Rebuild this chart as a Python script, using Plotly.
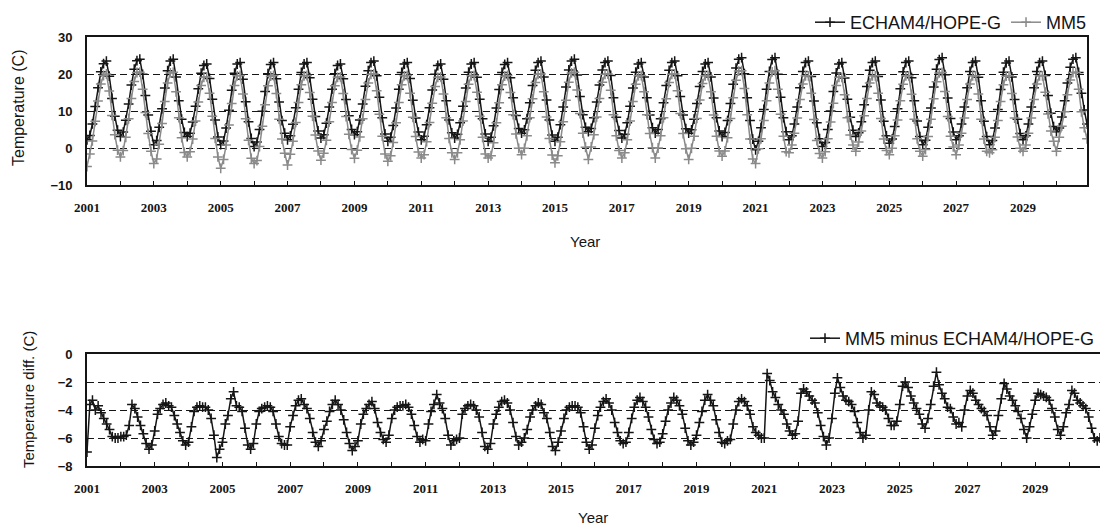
import pandas as pd
import plotly.graph_objects as go

# Monthly mean temperature (C), Jan..Dec, one row per year 2001-2030
echam = [
    2.2, 3.4, 6.5, 11.2, 16.3, 20.6, 22.8, 23.5, 19.4, 13.4, 8.6, 4.8,    # 2001
    3.1, 4.3, 7.5, 11.9, 17.0, 21.3, 23.6, 24.0, 19.9, 14.2, 8.9, 4.5,    # 2002
    0.9, 2.0, 5.6, 10.6, 16.2, 20.9, 23.5, 24.0, 19.2, 12.8, 7.8, 4.2,    # 2003
    3.1, 4.0, 7.0, 11.3, 16.0, 20.2, 22.3, 22.7, 18.8, 13.2, 7.6, 3.0,    # 2004
    0.9, 1.9, 5.4, 10.2, 15.6, 20.2, 22.7, 23.1, 18.6, 12.5, 7.1, 2.6,    # 2005
    0.4, 1.6, 5.0, 9.9, 15.3, 20.1, 22.6, 23.1, 18.7, 12.4, 7.4, 4.0,     # 2006
    2.2, 3.3, 6.4, 10.9, 15.9, 20.4, 22.7, 23.1, 19.0, 13.2, 8.5, 4.6,    # 2007
    2.7, 3.6, 6.7, 11.1, 15.9, 20.1, 22.3, 22.7, 18.7, 13.1, 8.7, 5.0,    # 2008
    3.6, 4.4, 7.6, 11.9, 16.7, 20.9, 23.1, 23.5, 19.5, 13.7, 8.2, 3.8,    # 2009
    1.8, 2.9, 6.1, 10.8, 15.9, 20.4, 22.7, 23.1, 18.8, 12.9, 8.1, 4.3,    # 2010
    2.2, 3.2, 6.3, 10.9, 15.7, 19.9, 22.3, 22.7, 18.6, 12.8, 7.6, 4.1,    # 2011
    2.7, 3.7, 6.8, 11.3, 16.2, 20.5, 22.7, 23.1, 19.1, 13.2, 7.9, 3.8,    # 2012
    1.8, 2.9, 6.0, 10.8, 15.8, 20.4, 22.6, 23.1, 19.0, 13.6, 8.8, 5.3,    # 2013
    4.0, 4.9, 7.9, 12.2, 16.9, 21.0, 23.1, 23.5, 19.2, 13.0, 7.6, 3.5,    # 2014
    1.8, 2.9, 6.3, 11.1, 16.5, 21.1, 23.5, 24.0, 19.7, 13.9, 9.0, 5.6,    # 2015
    4.4, 5.3, 8.2, 12.4, 17.0, 21.1, 23.1, 23.5, 19.6, 13.6, 8.3, 4.7,    # 2016
    2.7, 3.7, 6.8, 11.3, 16.2, 20.5, 22.7, 23.1, 19.2, 13.6, 8.9, 5.5,    # 2017
    4.0, 5.0, 7.9, 12.2, 16.9, 21.0, 23.1, 23.5, 19.5, 13.9, 8.9, 5.2,    # 2018
    4.0, 4.9, 7.8, 12.0, 16.6, 20.7, 22.7, 23.1, 19.2, 13.5, 8.2, 4.6,    # 2019
    3.1, 4.2, 7.4, 12.0, 17.2, 21.6, 24.0, 24.4, 20.1, 13.6, 7.4, 2.4,    # 2020
    -0.5, 1.8, 5.5, 10.4, 15.9, 20.7, 23.9, 24.4, 19.9, 13.7, 8.2, 4.4,   # 2021
    2.2, 3.3, 6.5, 11.1, 16.3, 20.7, 23.1, 23.5, 19.3, 12.7, 6.8, 2.5,    # 2022
    0.4, 1.5, 5.0, 10.0, 15.3, 20.3, 22.7, 23.1, 18.9, 13.2, 8.3, 4.8,    # 2023
    3.1, 4.1, 7.1, 11.7, 16.6, 21.0, 23.1, 23.5, 19.3, 13.0, 7.2, 3.3,    # 2024
    1.3, 2.4, 5.8, 10.6, 16.0, 20.6, 23.1, 23.5, 19.0, 12.8, 7.3, 3.1,    # 2025
    0.9, 2.1, 5.6, 10.8, 16.5, 21.3, 23.9, 24.4, 19.8, 13.5, 8.0, 4.3,    # 2026
    2.2, 3.3, 6.5, 11.1, 16.3, 20.7, 23.1, 23.5, 19.1, 12.8, 7.2, 3.1,    # 2027
    0.9, 2.0, 5.4, 10.4, 15.8, 20.5, 23.0, 23.5, 19.2, 13.1, 7.8, 3.9,    # 2028
    2.2, 3.3, 6.5, 11.1, 16.3, 20.7, 23.1, 23.5, 19.6, 14.2, 9.4, 5.8,    # 2029
    4.4, 5.4, 8.4, 12.8, 17.6, 21.8, 24.0, 24.4, 20.4, 14.8, 10.3, 6.5,   # 2030
]

mm5 = [
    -5.0, -1.6, 1.9, 7.2, 12.7, 17.3, 19.6, 20.0, 15.4, 8.8, 3.6, -0.6,   # 2001
    -2.4, -0.7, 2.9, 7.9, 13.4, 18.0, 20.4, 20.5, 15.9, 9.6, 3.9, -0.9,   # 2002
    -4.2, -3.0, 1.0, 6.6, 12.6, 17.6, 20.3, 20.5, 15.2, 8.2, 2.8, -1.2,   # 2003
    -2.4, -1.0, 2.4, 7.3, 12.4, 16.9, 19.1, 19.2, 14.8, 8.6, 2.6, -2.4,   # 2004
    -5.5, -3.1, 0.8, 6.2, 12.0, 16.9, 19.5, 19.6, 14.6, 7.9, 2.1, -2.8,   # 2005
    -4.2, -3.4, 0.4, 5.9, 11.7, 16.8, 19.4, 19.6, 14.7, 7.8, 2.4, -1.4,   # 2006
    -4.6, -1.7, 1.8, 6.9, 12.3, 17.1, 19.5, 19.6, 15.0, 8.6, 3.5, -0.8,   # 2007
    -3.3, -1.4, 2.1, 7.1, 12.3, 16.8, 19.1, 19.2, 14.7, 8.5, 3.7, -0.4,   # 2008
    -2.8, -0.6, 3.0, 7.9, 13.1, 17.6, 19.9, 20.0, 15.5, 9.1, 3.2, -1.6,   # 2009
    -3.6, -2.1, 1.5, 6.8, 12.3, 17.1, 19.5, 19.6, 14.8, 8.3, 3.1, -1.1,   # 2010
    -2.7, -1.8, 1.7, 6.9, 12.1, 16.6, 19.1, 19.2, 14.6, 8.2, 2.6, -1.3,   # 2011
    -3.1, -1.3, 2.2, 7.3, 12.6, 17.2, 19.5, 19.6, 15.1, 8.6, 2.9, -1.6,   # 2012
    -2.7, -2.1, 1.4, 6.8, 12.2, 17.1, 19.4, 19.6, 15.0, 9.0, 3.8, -0.1,   # 2013
    -1.8, -0.1, 3.3, 8.2, 13.3, 17.7, 19.9, 20.0, 15.2, 8.4, 2.6, -1.9,   # 2014
    -4.0, -2.1, 1.7, 7.1, 12.9, 17.8, 20.3, 20.5, 15.7, 9.3, 4.0, 0.2,    # 2015
    -3.1, 0.3, 3.6, 8.4, 13.4, 17.8, 19.9, 20.0, 15.6, 9.0, 3.3, -0.7,    # 2016
    -2.7, -1.3, 2.2, 7.3, 12.6, 17.2, 19.5, 19.6, 15.2, 9.0, 3.9, 0.1,    # 2017
    -2.7, 0.0, 3.3, 8.2, 13.3, 17.7, 19.9, 20.0, 15.5, 9.3, 3.9, -0.2,    # 2018
    -3.1, -0.1, 3.2, 8.0, 13.0, 17.4, 19.5, 19.6, 15.2, 8.9, 3.2, -0.8,   # 2019
    -2.2, -0.8, 2.8, 8.0, 13.6, 18.3, 20.8, 20.9, 16.1, 9.0, 2.4, -3.0,   # 2020
    -4.2, -0.2, 2.5, 7.4, 12.8, 17.6, 20.6, 20.9, 15.9, 9.1, 3.2, -1.0,   # 2021
    -1.3, 0.8, 4.0, 8.1, 13.1, 17.3, 19.5, 19.5, 14.8, 7.7, 2.0, -1.5,    # 2022
    -2.7, -1.0, 2.5, 7.0, 12.1, 16.9, 19.1, 19.1, 14.4, 8.2, 3.5, 0.8,    # 2023
    -0.9, 1.6, 4.6, 8.7, 13.4, 17.6, 19.5, 19.5, 14.8, 8.0, 2.4, -0.7,    # 2024
    -1.8, -0.1, 3.3, 7.6, 12.8, 17.2, 19.5, 19.5, 14.5, 7.8, 2.5, -0.9,   # 2025
    -2.2, -0.4, 3.1, 7.8, 13.3, 17.9, 20.3, 20.4, 15.3, 8.5, 3.2, 0.3,    # 2026
    -1.8, 0.8, 4.0, 8.1, 13.1, 17.3, 19.5, 19.5, 14.6, 7.8, 2.4, -0.9,    # 2027
    -1.3, -0.5, 2.9, 7.4, 12.6, 17.1, 19.4, 19.5, 14.7, 8.1, 3.0, -0.1,   # 2028
    -0.9, 0.8, 4.0, 8.1, 13.1, 17.3, 19.5, 19.5, 15.1, 9.2, 4.6, 1.8,     # 2029
    -0.9, 2.9, 5.9, 9.8, 14.4, 18.4, 20.4, 20.4, 15.9, 9.8, 5.5, 2.5,     # 2030
]

# MM5 minus ECHAM4/HOPE-G (C), Jan..Dec, one row per year 2001-2030
diff = [
    -7.0, -3.6, -3.3, -4.0, -3.7, -4.2, -4.6, -5.0, -5.4, -5.9, -6.0, -6.0,  # 2001
    -5.9, -5.9, -5.8, -5.1, -3.6, -3.9, -4.5, -5.1, -5.7, -6.4, -6.8, -6.5,  # 2002
    -5.5, -4.3, -3.9, -3.6, -3.5, -3.7, -3.8, -4.4, -5.0, -5.6, -6.2, -6.5,  # 2003
    -6.3, -5.2, -4.1, -3.8, -3.7, -3.8, -3.8, -4.0, -4.6, -5.8, -7.4, -6.8,  # 2004
    -6.3, -5.0, -4.4, -3.2, -2.7, -3.7, -3.8, -4.1, -5.3, -6.5, -6.8, -6.4,  # 2005
    -5.0, -4.1, -3.9, -3.8, -3.7, -3.8, -4.1, -5.0, -5.9, -6.4, -6.5, -6.5,  # 2006
    -5.2, -4.4, -3.7, -3.3, -3.2, -3.6, -3.9, -4.6, -5.6, -6.3, -6.6, -6.2,  # 2007
    -5.4, -4.8, -4.1, -3.6, -3.3, -3.6, -4.0, -4.7, -5.6, -6.4, -6.9, -6.6,  # 2008
    -6.2, -5.0, -4.3, -3.9, -3.6, -3.4, -3.9, -4.9, -5.6, -6.1, -6.3, -5.8,  # 2009
    -4.6, -4.0, -3.8, -3.7, -3.7, -3.6, -3.8, -4.3, -5.1, -5.9, -6.3, -6.1,  # 2010
    -6.2, -5.0, -4.1, -3.6, -2.9, -3.5, -3.9, -4.6, -5.8, -6.5, -6.2, -6.1,  # 2011
    -6.0, -4.3, -3.9, -3.7, -3.6, -3.7, -4.0, -4.5, -5.6, -6.6, -6.8, -6.4,  # 2012
    -5.0, -4.3, -3.8, -3.4, -3.3, -3.5, -4.0, -4.9, -5.9, -6.5, -6.3, -6.0,  # 2013
    -5.4, -4.5, -4.0, -3.7, -3.5, -3.6, -4.2, -4.6, -5.6, -6.6, -6.9, -6.3,  # 2014
    -5.5, -4.6, -4.0, -3.8, -3.7, -3.7, -3.8, -4.2, -5.2, -6.3, -6.8, -6.5,  # 2015
    -5.3, -4.4, -3.8, -3.4, -3.2, -3.5, -4.0, -4.9, -5.6, -6.2, -6.4, -6.3,  # 2016
    -5.6, -4.6, -3.8, -3.3, -3.1, -3.4, -3.8, -4.5, -5.4, -6.1, -6.4, -6.3,  # 2017
    -5.7, -4.8, -4.0, -3.5, -3.1, -3.3, -3.7, -4.3, -5.3, -6.2, -6.5, -6.3,  # 2018
    -5.8, -4.9, -4.1, -3.3, -2.9, -3.3, -3.7, -4.7, -5.6, -6.3, -6.4, -6.2,  # 2019
    -6.1, -5.0, -4.0, -3.4, -3.2, -3.4, -3.7, -4.3, -5.2, -5.6, -5.8, -6.0,  # 2020
    -6.0, -1.4, -1.9, -2.7, -3.1, -3.6, -4.0, -4.3, -5.0, -5.5, -5.8, -5.7,  # 2021
    -4.8, -2.8, -2.5, -2.7, -3.0, -3.3, -3.5, -4.2, -5.1, -5.9, -6.5, -6.0,  # 2022
    -4.6, -2.8, -1.7, -2.4, -3.0, -3.3, -3.4, -3.6, -4.1, -4.9, -5.6, -6.0,  # 2023
    -5.8, -4.0, -2.7, -2.9, -3.5, -3.7, -3.8, -4.0, -4.6, -5.1, -5.1, -4.8,  # 2024
    -3.6, -2.3, -2.0, -2.4, -3.0, -3.5, -3.9, -4.3, -5.0, -5.3, -4.6, -3.6,  # 2025
    -2.3, -1.3, -2.2, -2.8, -3.2, -3.8, -3.9, -4.5, -5.0, -4.9, -5.2, -4.0,  # 2026
    -3.0, -2.6, -2.8, -3.3, -3.6, -3.9, -4.1, -4.4, -5.2, -5.8, -5.5, -4.4,  # 2027
    -3.2, -2.1, -2.5, -3.0, -3.3, -3.7, -4.1, -4.6, -5.4, -6.0, -5.2, -4.3,  # 2028
    -3.3, -2.8, -2.9, -3.0, -3.1, -3.3, -3.9, -4.5, -5.4, -5.8, -5.2, -4.2,  # 2029
    -3.6, -2.6, -2.8, -3.3, -3.5, -3.7, -3.9, -4.5, -5.3, -6.0, -6.2, -6.0,  # 2030
]

years = list(range(2001, 2031))
year_tick_labels = ["2001", "", "2003", "", "2005", "", "2007", "", "2009", "",
                    "2011", "", "2013", "", "2015", "", "2017", "", "2019", "",
                    "2021", "", "2023", "", "2025", "", "2027", "", "2029", ""]
temp_ticks = [-10, 0, 10, 20, 30]
diff_ticks = [-8, -6, -4, -2, 0]

months = pd.date_range("2001-01-01", periods=len(echam), freq="MS")
year_starts = [f"{y}-01-01" for y in years]

W, H = 1100, 529
INK = "#151515"
GREY = "#8a8a8a"
SANS = "Liberation Sans"
SERIF = "Liberation Serif"


def px_x(v):
    return v / W


def px_y(v):
    return 1 - v / H


def series(x, y, name, color, xa, ya, legend):
    return go.Scatter(
        x=x, y=y, name=name, mode="lines+markers",
        line=dict(color=color, width=1.5),
        marker=dict(symbol="cross-thin", size=7, color=color,
                    line=dict(color=color, width=1.5)),
        xaxis=xa, yaxis=ya, legend=legend,
    )


fig = go.Figure()
fig.add_trace(series(months, echam, "ECHAM4/HOPE-G", INK, "x", "y", "legend"))
fig.add_trace(series(months, mm5, "MM5", GREY, "x", "y", "legend"))
fig.add_trace(series(months, diff, "MM5 minus ECHAM4/HOPE-G", INK, "x2", "y2", "legend2"))

xcommon = dict(
    tickmode="array", tickvals=year_starts, ticktext=year_tick_labels,
    ticks="inside", ticklen=4, tickwidth=1.3, tickcolor=INK,
    showline=True, linecolor=INK, linewidth=1.8, mirror=True,
    showgrid=False, zeroline=False, automargin=False,
    tickfont=dict(family=SERIF, size=13, color=INK, weight="bold"),
    ticklabelstandoff=9,
)
ycommon = dict(
    tickmode="array", ticks="",
    showline=True, linecolor=INK, linewidth=1.8,
    showgrid=True, gridcolor=INK, gridwidth=1.3, griddash="7px,4px",
    zeroline=False, automargin=False,
    tickfont=dict(family=SANS, size=13, color=INK, weight="bold"),
    ticklabelstandoff=10,
)

fig.update_layout(
    width=W, height=H,
    margin=dict(l=0, r=0, t=0, b=0),
    paper_bgcolor="white", plot_bgcolor="white",
    xaxis=dict(xcommon, domain=[px_x(87), px_x(1087)], anchor="y",
               range=["2001-01-01", "2030-12-01"]),
    yaxis=dict(ycommon, domain=[px_y(185), px_y(37)], anchor="x",
               range=[-10, 30], tickvals=temp_ticks, mirror=True),
    xaxis2=dict(xcommon, domain=[px_x(87), 1.0], anchor="y2",
                range=["2001-01-01", "2030-12-01"]),
    yaxis2=dict(ycommon, domain=[px_y(466), px_y(354)], anchor="x2",
                range=[-8, 0], tickvals=diff_ticks, mirror=False),
    legend=dict(orientation="h", x=px_x(1092), xanchor="right",
                y=px_y(4), yanchor="top", itemwidth=30,
                font=dict(family=SANS, size=18, color=INK),
                bgcolor="rgba(0,0,0,0)", tracegroupgap=0),
    legend2=dict(orientation="h", x=1.0, xanchor="right",
                 y=px_y(320), yanchor="top", itemwidth=30,
                 font=dict(family=SANS, size=18, color=INK),
                 bgcolor="rgba(0,0,0,0)"),
    showlegend=True,
)


def label(text, x, y, size, angle=0):
    fig.add_annotation(text=text, x=px_x(x), y=px_y(y), xref="paper", yref="paper",
                       xanchor="center", yanchor="middle", showarrow=False,
                       textangle=angle, font=dict(family=SANS, size=size, color=INK))


label("Year", 585, 242, 15)
label("Year", 593, 517, 15)
label("Temperature (C)", 19, 108, 16, -90)
label("Temperature diff. (C)", 28, 400, 15, -90)

fig.write_html("out.html")
